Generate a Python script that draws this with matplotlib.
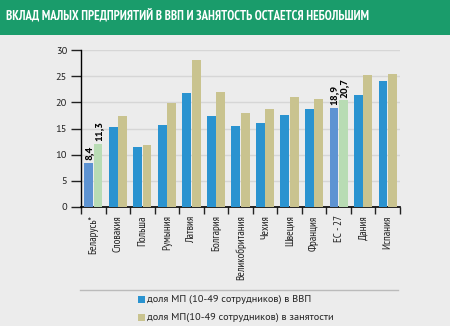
import matplotlib
matplotlib.use("Agg")
import matplotlib.pyplot as plt
from matplotlib.patches import Rectangle
from matplotlib.lines import Line2D
from matplotlib import font_manager
import numpy as np

title = "ВКЛАД МАЛЫХ ПРЕДПРИЯТИЙ В ВВП И ЗАНЯТОСТЬ ОСТАЕТСЯ НЕБОЛЬШИМ"
countries = ["Беларусь*", "Словакия", "Польша", "Румыния", "Латвия", "Болгария",
             "Великобритания", "Чехия", "Швеция", "Франция", "ЕС - 27", "Дания", "Испания"]
gdp_share = [8.4, 15.2, 11.5, 15.7, 21.7, 17.3, 15.4, 16.0, 17.6, 18.8, 18.9, 21.4, 24.1]
emp_share = [12.1, 17.4, 11.9, 19.8, 28.1, 22.0, 18.0, 18.7, 21.0, 20.7, 20.4, 25.2, 25.5]
gdp_labels = {0: "8,4", 10: "18,9"}
emp_labels = {0: "11,3", 10: "20,7"}
legend_labels = ["доля МП (10-49 сотрудников) в ВВП",
                 "доля МП(10-49 сотрудников) в занятости"]
yticks = [0, 5, 10, 15, 20, 25, 30]

blue = "#2a93d0"
tan = "#c9c38f"
blue_hl = "#5d93d2"
green_hl = "#b8dcb4"
bg = "#ececec"

names = {f.name for f in font_manager.fontManager.ttflist}
def pick(cands):
    for c in cands:
        if c in names:
            return c
    return "DejaVu Sans"
narrow = pick(["PT Sans Narrow", "Roboto Condensed", "Fira Sans Condensed",
               "Open Sans Condensed", "Ubuntu Condensed", "Liberation Sans Narrow"])
regular = pick(["PT Sans", "Fira Sans", "Open Sans", "Noto Sans"])

plt.rcParams['font.family'] = ['DejaVu Sans']
fig = plt.figure(figsize=(4.5, 3.26), dpi=100, facecolor=bg)

# title bar
fig.add_artist(Rectangle((0, 1 - 35/326), 1, 35/326, transform=fig.transFigure,
                         facecolor="#1a9c6b", edgecolor="none"))
fig.text(6/450, 1 - 17/326, title, color="white", fontsize=9.2, fontweight="bold",
         va="center", ha="left", family=[narrow, "DejaVu Sans"])

ax = fig.add_axes([81/450, 1 - 207/326, 319/450, 157/326])
ax.set_facecolor(bg)
n = len(countries)
x = np.arange(n)
w = 0.36
hl = {0, 10}
bc = [blue_hl if i in hl else blue for i in range(n)]
tc = [green_hl if i in hl else tan for i in range(n)]
ax.bar(x - w/2 - 0.01, gdp_share, w, color=bc, zorder=3)
ax.bar(x + w/2 + 0.01, emp_share, w, color=tc, zorder=3)
for i, s in gdp_labels.items():
    ax.text(x[i] - w/2, gdp_share[i] + 0.6, s, rotation=90, ha="center", va="bottom",
            fontsize=7.5, fontweight="bold", zorder=4, family=[regular, "DejaVu Sans"])
for i, s in emp_labels.items():
    ax.text(x[i] + w/2 + 0.05, emp_share[i] + 0.5, s, rotation=90, ha="center", va="bottom",
            fontsize=7.5, fontweight="bold", zorder=4, family=[regular, "DejaVu Sans"])

ax.set_xlim(-0.5, n - 0.5)
ax.set_ylim(0, 30)
ax.set_yticks(yticks)
ax.set_yticklabels([str(t) for t in yticks], fontsize=7.5, color="#222222",
                   family=[regular, "DejaVu Sans"])
ax.yaxis.grid(True, color="#d6d6d6", linewidth=1, zorder=0)
ax.set_xticks(x)
ax.set_xticklabels(countries, rotation=90, fontsize=8, color="#222222",
                   family=[narrow, "DejaVu Sans"])
ax.set_xticks(np.arange(n + 1) - 0.5, minor=True)
ax.tick_params(axis="x", which="major", length=0, pad=6)
ax.tick_params(axis="x", which="minor", length=5, width=1, direction="out", color="#222222")
ax.tick_params(axis="y", length=7, width=1, direction="out", color="#222222", pad=3)
for sp in ["top", "right"]:
    ax.spines[sp].set_visible(False)
ax.spines["left"].set_linewidth(1)
ax.spines["bottom"].set_linewidth(1.2)

# legend separator
fig.add_artist(Line2D([80/450, 398/450], [1 - 290/326, 1 - 290/326],
                      transform=fig.transFigure, color="#bbbbbb", linewidth=1))
for k, (lab, col) in enumerate(zip(legend_labels, [blue, tan])):
    yy = 1 - (299 + 18*k)/326
    fig.add_artist(Rectangle((138/450, yy - 3.5/326), 7/450, 7/326,
                             transform=fig.transFigure, facecolor=col, edgecolor="none"))
    fig.text(147/450, yy, lab, fontsize=7.5, va="center", ha="left", color="#222222",
             family=[regular, "DejaVu Sans"])

fig.savefig("out.png", dpi=100, facecolor=bg)
